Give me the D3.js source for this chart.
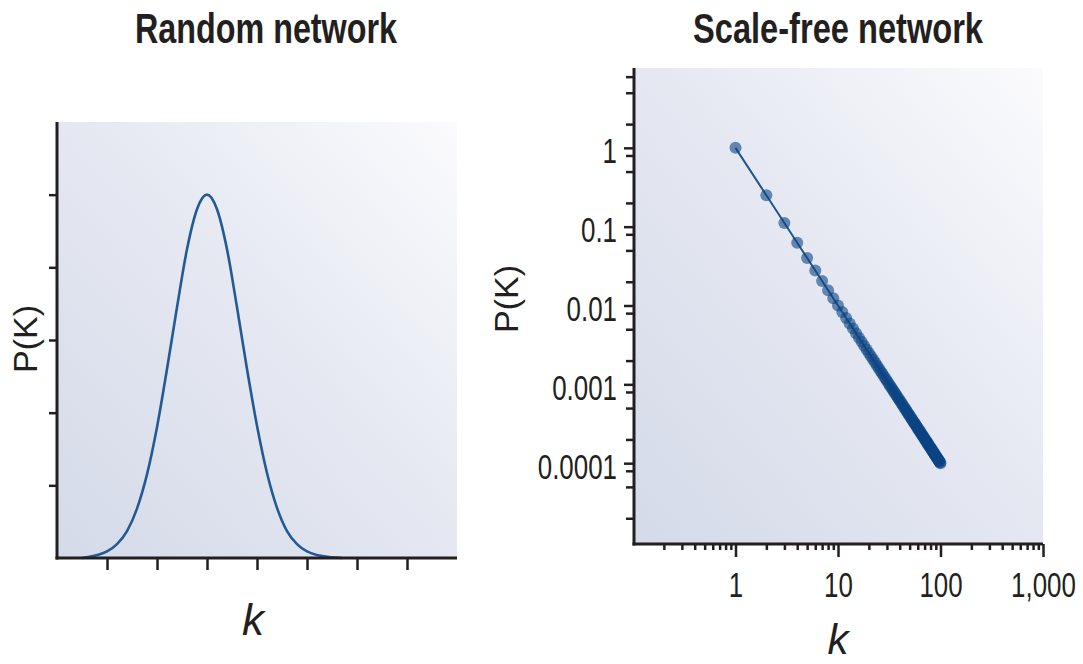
<!DOCTYPE html>
<html>
<head>
<meta charset="utf-8">
<script src="https://cdn.jsdelivr.net/npm/d3@7"></script>
<style>
  body { margin: 0; background: #ffffff; }
  text { font-family: "Liberation Sans", Arial, sans-serif; fill: #231f20; }
</style>
</head>
<body>
<div id="chart"></div>
<script>
// Random network: degree distribution
var randK = [0.5, 0.8, 1.0, 1.2, 1.4, 1.6, 1.8, 2.0, 2.2, 2.4, 2.6, 2.8, 3.0,
             3.2, 3.4, 3.6, 3.8, 4.0, 4.2, 4.4, 4.6, 4.8, 5.0, 5.2, 5.5, 5.7];
var randP = [0, 0.04, 0.09, 0.19, 0.37, 0.68, 1.15, 1.8, 2.6, 3.45, 4.25, 4.8, 5.0,
             4.8, 4.25, 3.45, 2.6, 1.82, 1.17, 0.69, 0.37, 0.19, 0.09, 0.04, 0.01, 0];
var randXTicks = [1, 2, 3, 4, 5, 6, 7];
var randYTicks = [1, 2, 3, 4, 5];

// Scale-free network: points along the power law
var sfK = [1, 2, 3, 4, 5, 6, 7, 8, 9, 10,
           11, 12, 13, 14, 15, 16, 17, 18, 19, 20,
           21, 22, 23, 24, 25, 26, 27, 28, 29, 30,
           31, 32, 33, 34, 35, 36, 37, 38, 39, 40,
           41, 42, 43, 44, 45, 46, 47, 48, 49, 50,
           51, 52, 53, 54, 55, 56, 57, 58, 59, 60,
           61, 62, 63, 64, 65, 66, 67, 68, 69, 70,
           71, 72, 73, 74, 75, 76, 77, 78, 79, 80,
           81, 82, 83, 84, 85, 86, 87, 88, 89, 90,
           91, 92, 93, 94, 95, 96, 97, 98, 99, 100];
var sfP = [1, 0.25, 0.1111, 0.0625, 0.04, 0.02778, 0.02041, 0.01563, 0.01235, 0.01,
           0.008264, 0.006944, 0.005917, 0.005102, 0.004444, 0.003906, 0.00346, 0.003086, 0.00277, 0.0025,
           0.002268, 0.002066, 0.00189, 0.001736, 0.0016, 0.001479, 0.001372, 0.001276, 0.001189, 0.001111,
           0.001041, 0.0009766, 0.0009183, 0.000865, 0.0008163, 0.0007716, 0.0007305, 0.0006925, 0.0006575, 0.000625,
           0.0005949, 0.0005669, 0.0005408, 0.0005165, 0.0004938, 0.0004726, 0.0004527, 0.000434, 0.0004165, 0.0004,
           0.0003845, 0.0003698, 0.000356, 0.0003429, 0.0003306, 0.0003189, 0.0003078, 0.0002973, 0.0002873, 0.0002778,
           0.0002687, 0.0002601, 0.000252, 0.0002441, 0.0002367, 0.0002296, 0.0002228, 0.0002163, 0.00021, 0.0002041,
           0.0001984, 0.0001929, 0.0001877, 0.0001826, 0.0001778, 0.0001731, 0.0001687, 0.0001644, 0.0001602, 0.0001563,
           0.0001524, 0.0001487, 0.0001452, 0.0001417, 0.0001384, 0.0001352, 0.0001321, 0.0001291, 0.0001263, 0.0001235,
           0.0001208, 0.0001181, 0.0001156, 0.0001132, 0.0001108, 0.0001085, 0.0001063, 0.0001041, 0.000102, 0.0001];
var sfXMajor = [1, 10, 100, 1000];
var sfXLabels = ["1", "10", "100", "1,000"];
var sfXMinor = [0.2, 0.3, 0.4, 0.5, 0.6, 0.7, 0.8, 0.9,
                2, 3, 4, 5, 6, 7, 8, 9,
                20, 30, 40, 50, 60, 70, 80, 90,
                200, 300, 400, 500, 600, 700, 800, 900];
var sfYMajor = [1, 0.1, 0.01, 0.001, 0.0001];
var sfYLabels = ["1", "0.1", "0.01", "0.001", "0.0001"];
var sfYMinor = [8, 5, 2, 0.8, 0.5, 0.2, 0.08, 0.05, 0.02, 0.008, 0.005, 0.002,
                0.0008, 0.0005, 0.0002, 0.00008, 0.00005, 0.00002];

var w = 1083;
var h = 664;
var squeeze = 0.72; // labels use a narrow face

var svg = d3.select("#chart").append("svg").attr("width", w).attr("height", h);

// Panel background: light lavender fading to white at top right
var grad = svg.append("defs").append("linearGradient")
  .attr("id", "bg").attr("x1", 0).attr("y1", 1).attr("x2", 1).attr("y2", 0);
grad.append("stop").attr("offset", "0%").attr("stop-color", "#d5dae9");
grad.append("stop").attr("offset", "55%").attr("stop-color", "#e6e9f2");
grad.append("stop").attr("offset", "100%").attr("stop-color", "#fbfbfd");

// ---------- Random network ----------
var xL = d3.scaleLinear().domain([0, 8]).range([57, 457]);
var yL = d3.scaleLinear().domain([0, 6]).range([558, 122]);

svg.append("rect")
  .attr("x", xL(0)).attr("y", yL(6))
  .attr("width", xL(8) - xL(0)).attr("height", yL(0) - yL(6))
  .attr("fill", "url(#bg)");

svg.append("path")
  .datum(randK.map(function (k, i) { return [k, randP[i]]; }))
  .attr("fill", "none")
  .attr("stroke", "#235a95")
  .attr("stroke-width", 2.6)
  .attr("d", d3.line()
    .x(function (d) { return xL(d[0]); })
    .y(function (d) { return yL(d[1]); })
    .curve(d3.curveMonotoneX));

var axL = svg.append("g").attr("transform", "translate(" + xL(0) + ",0)")
  .call(d3.axisLeft(yL).tickValues(randYTicks).tickSize(8).tickSizeOuter(0).tickFormat(""));
var axB = svg.append("g").attr("transform", "translate(0," + yL(0) + ")")
  .call(d3.axisBottom(xL).tickValues(randXTicks).tickSize(12).tickSizeOuter(0).tickFormat(""));

// ---------- Scale-free network ----------
var xR = d3.scaleLog().domain([0.1, 1000]).range([633, 1043]);
var yR = d3.scaleLog().domain([0.00001, 10]).range([542, 69]);
var axisX = 634;
var axisY = 544;

svg.append("rect")
  .attr("x", axisX).attr("y", yR(10) - 1)
  .attr("width", xR(1000) - axisX).attr("height", axisY - yR(10) + 1)
  .attr("fill", "url(#bg)");

var pts = sfK.map(function (k, i) { return [k, sfP[i]]; });

svg.append("path")
  .datum(pts)
  .attr("fill", "none")
  .attr("stroke", "#1f5592")
  .attr("stroke-width", 2)
  .attr("d", d3.line()
    .x(function (d) { return xR(d[0]); })
    .y(function (d) { return yR(d[1]); }));

svg.append("g").selectAll("circle")
  .data(pts)
  .enter()
  .append("circle")
  .attr("cx", function (d) { return xR(d[0]); })
  .attr("cy", function (d) { return yR(d[1]); })
  .attr("r", 6)
  .attr("fill", "#0b4584")
  .attr("fill-opacity", 0.6);

// minor ticks first, then labelled major ticks
var axRMinorY = svg.append("g").attr("transform", "translate(" + axisX + ",0)")
  .call(d3.axisLeft(yR).tickValues(sfYMinor).tickSize(8).tickSizeOuter(0).tickFormat(""));
var axRMajorY = svg.append("g").attr("transform", "translate(" + axisX + ",0)")
  .call(d3.axisLeft(yR).tickValues(sfYMajor).tickSize(10).tickSizeOuter(0)
    .tickFormat(function (d, i) { return sfYLabels[i]; }));
var axRMinorX = svg.append("g").attr("transform", "translate(0," + axisY + ")")
  .call(d3.axisBottom(xR).tickValues(sfXMinor).tickSize(6).tickSizeOuter(0).tickFormat(""));
var axRMajorX = svg.append("g").attr("transform", "translate(0," + axisY + ")")
  .call(d3.axisBottom(xR).tickValues(sfXMajor).tickSize(13).tickSizeOuter(0)
    .tickFormat(function (d, i) { return sfXLabels[i]; }));

// common axis styling
[axL, axB, axRMinorY, axRMajorY, axRMinorX, axRMajorX].forEach(function (g) {
  g.select(".domain").attr("stroke", "#231f20").attr("stroke-width", 3);
  g.selectAll(".tick line").attr("stroke", "#231f20").attr("stroke-width", 2.5);
});
// the right panel's y axis runs from the top of the panel down to the x axis
axRMajorY.select(".domain").attr("d", "M0," + (yR(10) - 1) + "V" + (axisY + 1.5));
axRMinorY.select(".domain").remove();
axRMinorX.select(".domain").remove();
axRMajorX.select(".domain").attr("d", "M" + (axisX - 1.5) + ",0H" + xR(1000));
axL.select(".domain").attr("d", "M0," + yL(6) + "V" + (yL(0) + 1.5));
axB.select(".domain").attr("d", "M" + (xL(0) - 1.5) + ",0H" + xL(8));

axRMajorY.selectAll(".tick text")
  .attr("font-size", 36)
  .attr("fill", "#231f20")
  .attr("x", -17 / squeeze)
  .attr("dy", "0.42em")
  .attr("transform", "scale(" + squeeze + ",1)");
axRMajorX.selectAll(".tick text")
  .attr("font-size", 36)
  .attr("fill", "#231f20")
  .attr("y", 53)
  .attr("dy", 0)
  .attr("transform", "scale(" + squeeze + ",1)");

// ---------- titles and axis labels ----------
svg.append("text")
  .attr("x", 266).attr("y", 43)
  .attr("text-anchor", "middle")
  .attr("font-size", 43).attr("font-weight", "bold")
  .attr("textLength", 262).attr("lengthAdjust", "spacingAndGlyphs")
  .text("Random network");

svg.append("text")
  .attr("x", 838).attr("y", 43)
  .attr("text-anchor", "middle")
  .attr("font-size", 43).attr("font-weight", "bold")
  .attr("textLength", 290).attr("lengthAdjust", "spacingAndGlyphs")
  .text("Scale-free network");

svg.append("text")
  .attr("transform", "translate(37,339) rotate(-90)")
  .attr("text-anchor", "middle")
  .attr("font-size", 34)
  .text("P(K)");

svg.append("text")
  .attr("transform", "translate(518,299) rotate(-90)")
  .attr("text-anchor", "middle")
  .attr("font-size", 34)
  .text("P(K)");

svg.append("text")
  .attr("x", 253).attr("y", 635)
  .attr("text-anchor", "middle")
  .attr("font-size", 44).attr("font-style", "italic")
  .text("k");

svg.append("text")
  .attr("x", 838).attr("y", 654)
  .attr("text-anchor", "middle")
  .attr("font-size", 42).attr("font-style", "italic")
  .text("k");
</script>
</body>
</html>
